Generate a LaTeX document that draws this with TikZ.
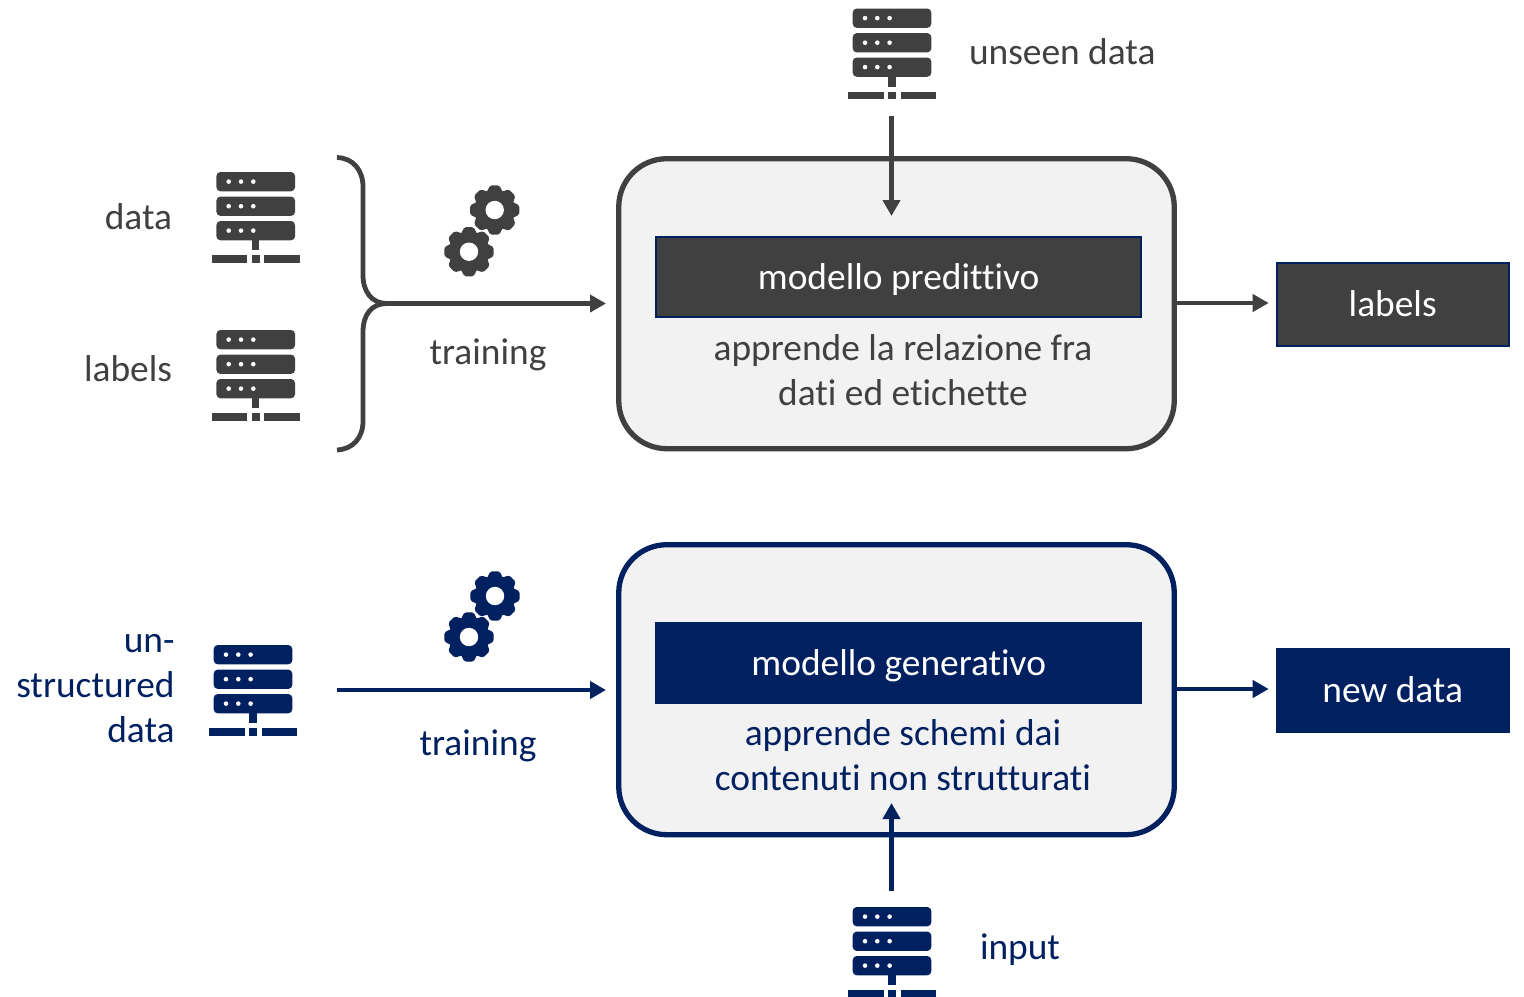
\documentclass[tikz,border=0pt]{standalone}
\usepackage{fontspec}
\setmainfont[Ligatures=NoCommon]{Carlito}
\usetikzlibrary{arrows.meta}
\definecolor{dk}{HTML}{404040}
\definecolor{nv}{HTML}{002060}
\definecolor{pane}{HTML}{F2F2F2}
\tikzset{
 x=0.5pt,y=-0.5pt,
 lab/.style={inner sep=0pt,outer sep=0pt,font=\fontsize{18.7}{22.5}\selectfont,anchor=base},
 panebox/.style={draw=#1,fill=pane,line width=2.65pt,rounded corners=24pt,minimum width=277.75pt,minimum height=145pt,inner sep=0pt},
 solid box/.style={draw=nv,fill=#1,line width=1pt,inner sep=0pt,text=white,font=\fontsize{18.7}{22.5}\selectfont,text height=14.3pt,text depth=1.5pt},
 conn/.style={draw=#1,line width=2.4pt,-{Triangle[length=8pt,width=8.5pt,fill=#1]}},
 pics/server/.style={code={
  \foreach \yy in {0,24.6,49}{
   \fill[#1,rounded corners=2pt] (-39.3,\yy) rectangle (39.3,\yy+19.3);
   \foreach \xx in {-27,-14.7,-2.4}{\fill[white] (\xx,\yy+9.6) circle (1.15pt);}
  }
  \fill[#1] (-3.7,68) rectangle (3.7,78);
  \fill[#1] (-44,83.3) rectangle (-8.5,90.6);
  \fill[#1] (-3.9,83.3) rectangle (3.9,90.6);
  \fill[#1] (8.5,83.3) rectangle (44,90.6);
 }},
 pics/gear/.style={code={
  \fill[#1] (0,0) circle (10.1pt);
  \foreach \a in {0,45,...,315}{
   \fill[#1,rotate=\a,rounded corners=0.8pt] (-8.5,-17) -- (-4.6,-24.6) -- (4.6,-24.6) -- (8.5,-17) -- cycle;
  }
  \fill[white] (0,0) circle (4.6pt);
 }}
}
\begin{document}
\begin{tikzpicture}
\useasboundingbox (0,0) rectangle (1524,996);
% panes
\node[panebox=dk] (pred) at (896.5,303.7) {};
\node[panebox=nv] (gen) at (896.5,689.7) {};
% model bars
\node[solid box=dk,minimum width=242.5pt,minimum height=40pt] (predbar) at (898.7,276.5) {modello predittivo};
\node[solid box=nv,minimum width=242.5pt,minimum height=40pt] (genbar) at (898.7,662.5) {modello generativo};
\node[solid box=dk,minimum width=116pt,minimum height=41.5pt] (labelsbox) at (1392.7,304) {labels};
\node[solid box=nv,minimum width=116pt,minimum height=41.5pt] (newbox) at (1392.7,690) {new data};
% pane captions
\node[lab,text=dk,align=center] (predcap) at (903,405.5) {apprende la relazione fra\\dati ed etichette};
\node[lab,text=nv,align=center] (gencap) at (903,790.5) {apprende schemi dai\\contenuti non strutturati};
% icons
\pic at (255.7,172) {server=dk};
\pic at (255.7,330) {server=dk};
\pic at (892,8.5) {server=dk};
\pic at (253,645) {server=nv};
\pic at (892,907) {server=nv};
\pic at (494.7,210) {gear=dk};
\pic at (469,251.7) {gear=dk};
\pic at (495,596) {gear=nv};
\pic at (469,637) {gear=nv};
% labels
\node[lab,text=dk,anchor=base east] (tdata) at (172,229) {data};
\node[lab,text=dk,anchor=base east] (tlabels) at (172,381.5) {labels};
\node[lab,text=dk,anchor=base west] (tunseen) at (969,64.5) {unseen data};
\node[lab,text=dk] (ttrain) at (488,364) {training};
\node[lab,text=nv] (ttrainb) at (478,755) {training};
\node[lab,text=nv,anchor=base east,align=right] (tunstr) at (174.5,742.5) {un-\\structured\\data};
\node[lab,text=nv,anchor=base west] (tinput) at (980,959.5) {input};
% free ends
\coordinate (bt) at (337,157.5);
\coordinate (bb) at (337,450);
\coordinate (bm) at (387,303.5);
\coordinate (predin) at (606,303.5);
\coordinate (genstart) at (337,690);
\coordinate (genin) at (606,690);
\coordinate (unseenout) at (891.5,116);
\coordinate (predtop) at (891.5,216);
\coordinate (inputout) at (891.5,891);
\coordinate (genbottom) at (891.5,803);
\coordinate (predout) at (1177,303);
\coordinate (genout) at (1177,689);
% brace
\draw[dk,line width=2.4pt] (bt) .. controls (353,158) and (363,170) .. (363,187) -- (363,275) .. controls (363,292) and (372,303.5) .. (bm);
\draw[dk,line width=2.4pt] (bb) .. controls (353,449) and (363,438) .. (363,421) -- (363,332) .. controls (363,314) and (372,303.5) .. (bm);
% connectors
\draw[conn=dk] (bm) -- (predin);
\draw[conn=dk] (unseenout) -- (predtop);
\draw[conn=dk,shorten >=3.5pt] (predout) -- (predout -| labelsbox.west);
\draw[conn=nv] (genstart) -- (genin);
\draw[conn=nv] (inputout) -- (genbottom);
\draw[conn=nv,shorten >=3.5pt] (genout) -- (genout -| newbox.west);
\end{tikzpicture}
\end{document}
